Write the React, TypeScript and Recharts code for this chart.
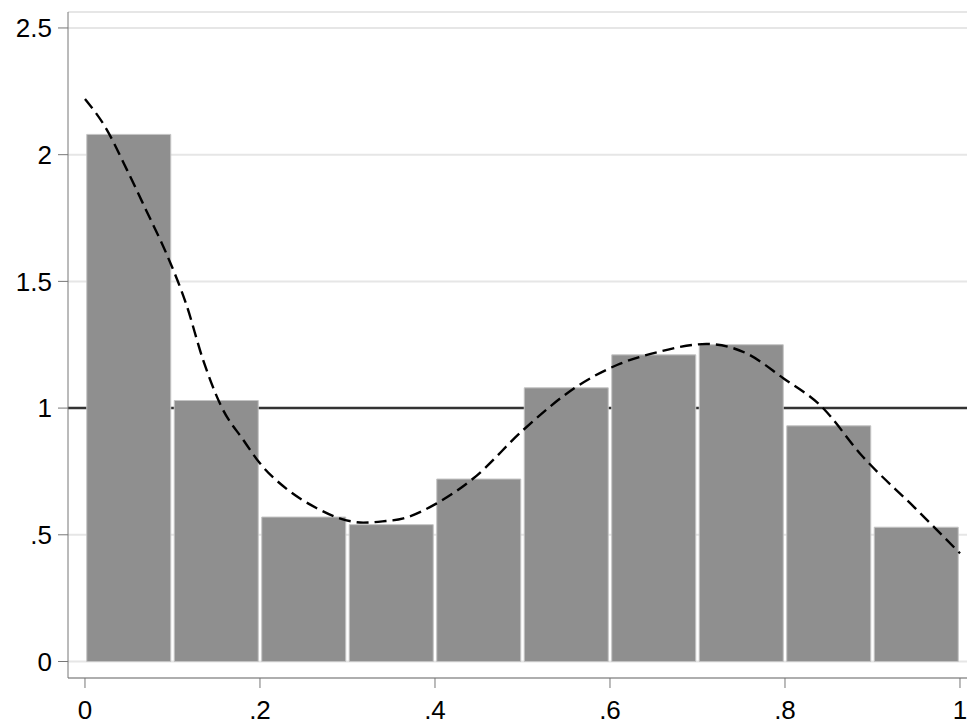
import { ComposedChart, Bar, Line, XAxis, YAxis, CartesianGrid, ReferenceLine } from "recharts";

// histogram bins (midpoints) and their densities
const binMids = [0.05, 0.15, 0.25, 0.35, 0.45, 0.55, 0.65, 0.75, 0.85, 0.95];
const binHeights = [2.08, 1.03, 0.57, 0.54, 0.72, 1.08, 1.21, 1.25, 0.93, 0.53];

// kernel density estimate
const kdeX = [0, 0.023, 0.048, 0.07, 0.093, 0.116, 0.135, 0.156, 0.181, 0.2, 0.232, 0.265, 0.291, 0.318, 0.34, 0.364, 0.402, 0.444, 0.501, 0.562, 0.608, 0.657, 0.71, 0.756, 0.798, 0.84, 0.889, 0.947, 1.0];
const kdeY = [2.22, 2.11, 1.94, 1.78, 1.61, 1.407, 1.19, 1.005, 0.874, 0.782, 0.677, 0.605, 0.565, 0.548, 0.553, 0.565, 0.624, 0.723, 0.914, 1.085, 1.17, 1.223, 1.253, 1.216, 1.118, 1.012, 0.808, 0.611, 0.427];

const xTicks = [0, 0.2, 0.4, 0.6, 0.8, 1];
const yTicks = [0, 0.5, 1, 1.5, 2, 2.5];
const fmt = (v: number) => (v === 0 ? "0" : String(v).replace(/^0\./, "."));

const bars = binMids.map((x, i) => ({ x, h: binHeights[i] }));
const kde = kdeX.map((x, i) => ({ x, d: kdeY[i] }));

const tickStyle = { fontSize: 26, fill: "#000", fontFamily: "'Liberation Sans', Arial, sans-serif" };

export default function App() {
  return (
    <div style={{ position: "absolute", left: 0, top: 0, background: "#fff" }}>
      <ComposedChart
        width={967}
        height={721}
        data={bars}
        margin={{ top: 12, right: 0, bottom: 0, left: 0 }}
        barCategoryGap="2%"
      >
        <CartesianGrid horizontal vertical={false} stroke="#e6e6e6" strokeWidth={2} />
        <ReferenceLine y={1} stroke="#333" strokeWidth={2.5} zIndex={-50} />
        {/* hidden band axis for the bins; padding lines 0..1 up with the numeric axis */}
        <XAxis xAxisId="bin" type="category" dataKey="x" hide padding={{ left: 17, right: 7 }} height={43} />
        <XAxis
          type="number"
          dataKey="x"
          domain={[-0.0194, 1.008]}
          ticks={xTicks}
          tickFormatter={fmt}
          allowDataOverflow
          height={43}
          tickSize={10}
          tickMargin={13}
          stroke="#777"
          tick={tickStyle}
        />
        <YAxis
          type="number"
          domain={[-0.0651, 2.563]}
          ticks={yTicks}
          tickFormatter={fmt}
          allowDataOverflow
          width={68}
          tickSize={10}
          tickMargin={6}
          stroke="#777"
          tick={tickStyle}
        />
        <Bar xAxisId="bin" dataKey="h" fill="#8f8f8f" stroke="#c4c4c4" strokeWidth={1} isAnimationActive={false} />
        <Line
          data={kde}
          dataKey="d"
          type="monotone"
          stroke="#000"
          strokeWidth={2.4}
          strokeDasharray="12 6"
          dot={false}
          activeDot={false}
          isAnimationActive={false}
        />
      </ComposedChart>
    </div>
  );
}
